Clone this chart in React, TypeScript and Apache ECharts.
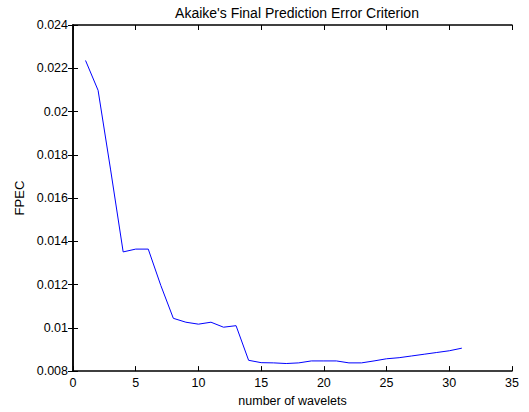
import React, { useEffect, useRef } from "react";
import * as echarts from "echarts";

const titleText = "Akaike's Final Prediction Error Criterion";
const xName = "number of wavelets";
const yName = "FPEC";
const wavelets = [1,2,3,4,5,6,7,8,9,10,11,12,13,14,15,16,17,18,19,20,21,22,23,24,25,26,27,28,29,30,31];
const fpec = [
  0.02236, 0.02098, 0.0173, 0.01351, 0.01364, 0.01364, 0.01196, 0.01044, 0.01026, 0.01017,
  0.01026, 0.01003, 0.0101, 0.0085, 0.00839, 0.00838, 0.00835, 0.00838, 0.00847, 0.00847,
  0.00847, 0.00838, 0.00838, 0.00847, 0.00857, 0.00862, 0.0087, 0.00878, 0.00886, 0.00894,
  0.00906,
];
const yTickLabels: Record<string, string> = {
  "0.008": "0.008", "0.01": "0.01", "0.012": "0.012", "0.014": "0.014", "0.016": "0.016",
  "0.018": "0.018", "0.02": "0.02", "0.022": "0.022", "0.024": "0.024",
};

export default function App() {
  const ref = useRef<HTMLDivElement>(null);
  useEffect(() => {
    if (!ref.current) return;
    const chart = echarts.init(ref.current, undefined, { renderer: "svg" });
    const font = "Liberation Sans, Arial, Helvetica, sans-serif";
    const axisLine = { show: true, lineStyle: { color: "#000", width: 1.5 } };
    const tick = { show: true, inside: true, length: 5, lineStyle: { color: "#000" } };
    chart.setOption({
      animation: false,
      backgroundColor: "#fff",
      title: {
        text: titleText,
        left: 292,
        textAlign: "center",
        top: 1,
        textStyle: { fontFamily: font, fontSize: 14, fontWeight: "normal", color: "#000" },
      },
      grid: { left: 73, right: 17, top: 25, bottom: 35, containLabel: false },
      xAxis: [
        {
          type: "value", min: 0, max: 35, interval: 5,
          name: xName, nameLocation: "middle", nameGap: 20,
          nameTextStyle: { fontFamily: font, fontSize: 12.5, color: "#000" },
          axisLine, axisTick: tick,
          axisLabel: { fontFamily: font, fontSize: 12.5, color: "#000", margin: 5 },
          splitLine: { show: false },
        },
        {
          type: "value", min: 0, max: 35, interval: 5, position: "top",
          axisLine, axisTick: tick, axisLabel: { show: false }, splitLine: { show: false },
        },
      ],
      yAxis: [
        {
          type: "value", min: 0.008, max: 0.024, interval: 0.002,
          name: yName, nameLocation: "middle", nameGap: 38, nameRotate: 90,
          nameTextStyle: { fontFamily: font, fontSize: 13, color: "#000" },
          axisLine, axisTick: tick,
          axisLabel: {
            fontFamily: font, fontSize: 12.5, color: "#000", margin: 5,
            formatter: (v: number) => yTickLabels[String(+v.toFixed(4))] ?? String(+v.toFixed(4)),
          },
          splitLine: { show: false },
        },
        {
          type: "value", min: 0.008, max: 0.024, interval: 0.002, position: "right",
          axisLine, axisTick: tick, axisLabel: { show: false }, splitLine: { show: false },
        },
      ],
      series: [
        {
          type: "line",
          data: wavelets.map((x, i) => [x, fpec[i]]),
          showSymbol: false,
          symbol: "none",
          lineStyle: { color: "#0000ff", width: 1 },
          xAxisIndex: 0, yAxisIndex: 0,
        },
      ],
    });
    return () => chart.dispose();
  }, []);
  return <div ref={ref} style={{ width: 529, height: 412, position: "absolute", left: 0, top: 0 }} />;
}
